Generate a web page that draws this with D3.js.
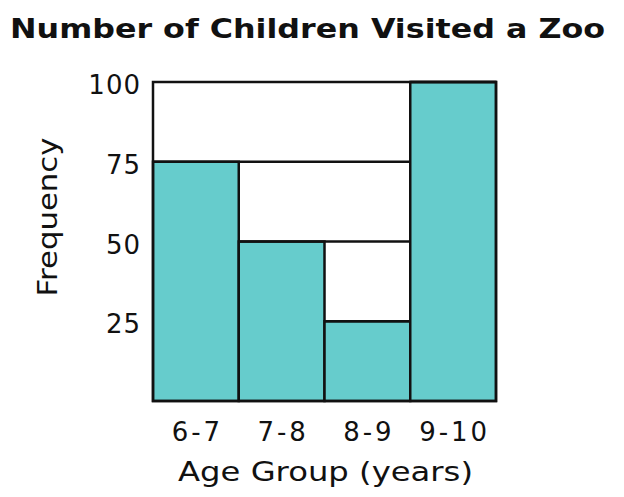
<!DOCTYPE html>
<html>
<head>
<meta charset="utf-8">
<script src="https://cdn.jsdelivr.net/npm/d3@7"></script>
<style>
  html, body { margin: 0; padding: 0; background: #fff; }
  svg { display: block; }
  text { font-family: "DejaVu Sans", Verdana, sans-serif; fill: #111; }
</style>
</head>
<body>
<svg id="chart" width="624" height="497"></svg>
<script>
// ---- data ----
const title = "Number of Children Visited a Zoo";
const categories = ["6-7", "7-8", "8-9", "9-10"];
const frequencies = [75, 50, 25, 100];
const yTicks = [25, 50, 75, 100];
const xLabel = "Age Group (years)";
const yLabel = "Frequency";

// ---- layout ----
const plot = { left: 153, right: 496, top: 82, bottom: 401 };
const barFill = "#66cccc";
const strokeW = 2.5;

const svg = d3.select("#chart");

const x = d3.scaleBand().domain(categories).range([plot.left, plot.right]).padding(0);
const y = d3.scaleLinear().domain([0, 100]).range([plot.bottom, plot.top]);

const data = categories.map((c, i) => ({ cat: c, v: frequencies[i], i }));

// bars
svg.append("g").selectAll("rect").data(data).join("rect")
  .attr("x", d => x(d.cat))
  .attr("y", d => y(d.v))
  .attr("width", x.bandwidth())
  .attr("height", d => y(0) - y(d.v))
  .attr("fill", barFill)
  .attr("stroke", "#111")
  .attr("stroke-width", strokeW);

// step lines: each bar top extended right until a bar at least as tall
const steps = data.map(d => {
  let end = plot.right;
  for (let j = d.i + 1; j < data.length; j++) {
    if (data[j].v >= d.v) { end = x(data[j].cat); break; }
  }
  return { x1: x(d.cat), x2: end, yv: d.v };
});
svg.append("g").selectAll("line").data(steps).join("line")
  .attr("x1", d => d.x1).attr("x2", d => d.x2)
  .attr("y1", d => y(d.yv)).attr("y2", d => y(d.yv))
  .attr("stroke", "#111").attr("stroke-width", strokeW);

// frame
svg.append("rect")
  .attr("x", plot.left).attr("y", plot.top)
  .attr("width", plot.right - plot.left).attr("height", plot.bottom - plot.top)
  .attr("fill", "none").attr("stroke", "#111").attr("stroke-width", strokeW);

// x axis
const gx = svg.append("g")
  .attr("transform", `translate(0,${plot.bottom})`)
  .call(d3.axisBottom(x).tickSize(0).tickPadding(0));
gx.select(".domain").remove();
gx.selectAll("text")
  .attr("y", 40).attr("dy", null)
  .style("font-size", "26px")
  .style("font-family", "'DejaVu Sans', sans-serif")
  .style("fill", "#111")
  .style("letter-spacing", "3px")
  .attr("dx", "1.5px");

// y axis
const gy = svg.append("g")
  .attr("transform", `translate(${plot.left},0)`)
  .call(d3.axisLeft(y).tickValues(yTicks).tickSize(0).tickPadding(13));
gy.select(".domain").remove();
gy.selectAll("text")
  .attr("dy", "0.45em")
  .style("font-size", "26px")
  .style("font-family", "'DejaVu Sans', sans-serif")
  .style("fill", "#111")
  .style("letter-spacing", "1px")
  .attr("dx", "1px");

// title
svg.append("text")
  .attr("x", 10).attr("y", 38)
  .attr("text-anchor", "start")
  .attr("textLength", 595)
  .attr("lengthAdjust", "spacingAndGlyphs")
  .style("font-size", "27px")
  .style("font-weight", "bold")
  .text(title);

// x label
svg.append("text")
  .attr("x", (plot.left + plot.right) / 2 + 1).attr("y", 481)
  .attr("text-anchor", "middle")
  .attr("textLength", 295)
  .attr("lengthAdjust", "spacingAndGlyphs")
  .style("font-size", "27px")
  .text(xLabel);

// y label
svg.append("text")
  .attr("transform", `translate(57,217) rotate(-90)`)
  .attr("text-anchor", "middle")
  .attr("textLength", 159)
  .attr("lengthAdjust", "spacingAndGlyphs")
  .style("font-size", "27px")
  .text(yLabel);
</script>
</body>
</html>
